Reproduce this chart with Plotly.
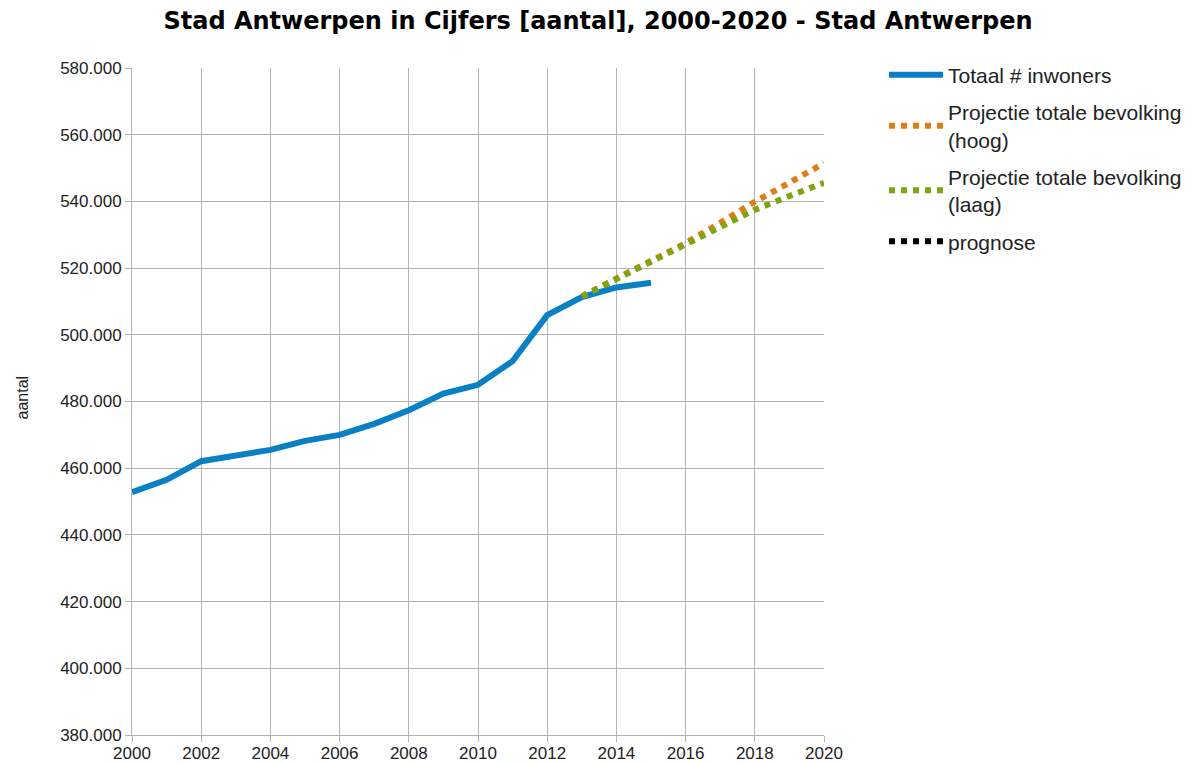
import plotly.graph_objects as go

years_hist = [2000, 2001, 2002, 2003, 2004, 2005, 2006, 2007, 2008, 2009, 2010, 2011, 2012, 2013, 2014, 2015]
inwoners = [452800, 456500, 462100, 464000, 465500, 468200, 470000, 473300, 477400, 482400, 485000, 492100, 505900, 511300, 514200, 515600]

years_proj = [2013, 2014, 2015, 2016, 2017, 2018, 2019, 2020]
proj_hoog = [511500, 516700, 521900, 527500, 533600, 539900, 545600, 551500]
proj_laag = [511500, 516700, 521900, 527300, 532500, 537500, 541600, 545600]

BLUE = "#0a80c4"
ORANGE = "#e07e16"
GREEN = "#7ea40e"
GRID = "#b3b3b3"
FONT = "Liberation Sans, Arial, sans-serif"
TXT = "#222222"

fig = go.Figure()
fig.add_trace(go.Scatter(x=years_hist, y=inwoners, mode="lines", name="Totaal # inwoners",
                         legendgroup="a", line=dict(color=BLUE, width=6)))
fig.add_trace(go.Scatter(x=years_proj, y=proj_hoog, mode="lines", name="Projectie totale bevolking<br>(hoog)",
                         legendgroup="b", line=dict(color=ORANGE, width=6, dash="dot")))
fig.add_trace(go.Scatter(x=years_proj, y=proj_laag, mode="lines", name="Projectie totale bevolking<br>(laag)",
                         legendgroup="c", line=dict(color=GREEN, width=6, dash="dot")))
fig.add_trace(go.Scatter(x=[None], y=[None], mode="lines", name="prognose",
                         legendgroup="d", line=dict(color="black", width=6, dash="dot")))

fig.update_layout(
    width=1200, height=763,
    margin=dict(l=124, r=384, t=60, b=36),
    plot_bgcolor="white", paper_bgcolor="white",
    separators=",.",
    title=dict(text="<b>Stad Antwerpen in Cijfers [aantal], 2000-2020 - Stad Antwerpen</b>",
               x=0.4917, xref="container", xanchor="center", y=0.984, yref="container", yanchor="middle",
               font=dict(family="DejaVu Sans, Verdana, sans-serif", size=24, color="black")),
    font=dict(family=FONT, size=17, color=TXT),
    legend=dict(x=1.0867, y=1.02, xanchor="left", yanchor="top",
                font=dict(family=FONT, size=21, color=TXT),
                bgcolor="rgba(0,0,0,0)", tracegroupgap=7, itemwidth=54),
    showlegend=True,
    annotations=[dict(text="aantal", textangle=-90, xref="paper", yref="paper",
                      x=(13.5 - 124) / 692, y=(727 - 389) / 667, xanchor="center", yanchor="middle",
                      showarrow=False, font=dict(family=FONT, size=16, color=TXT))],
)
fig.update_xaxes(range=[2000, 2020], tickmode="linear", tick0=2000, dtick=2,
                 showgrid=True, gridcolor=GRID, gridwidth=1,
                 showline=True, linecolor=GRID, linewidth=1,
                 ticks="outside", ticklen=6, tickcolor=GRID, automargin=False,
                 ticklabelstandoff=-3,
                 zeroline=False, tickfont=dict(family=FONT, size=17, color=TXT))
fig.update_yaxes(range=[380000, 580000], tickmode="linear", tick0=380000, dtick=20000,
                 tickformat=",.0f",
                 showgrid=True, gridcolor=GRID, gridwidth=1,
                 showline=True, linecolor=GRID, linewidth=1,
                 ticks="outside", ticklen=6, tickcolor=GRID, automargin=False,
                 zeroline=False, tickfont=dict(family=FONT, size=17, color=TXT))

fig.write_html("out.html")
